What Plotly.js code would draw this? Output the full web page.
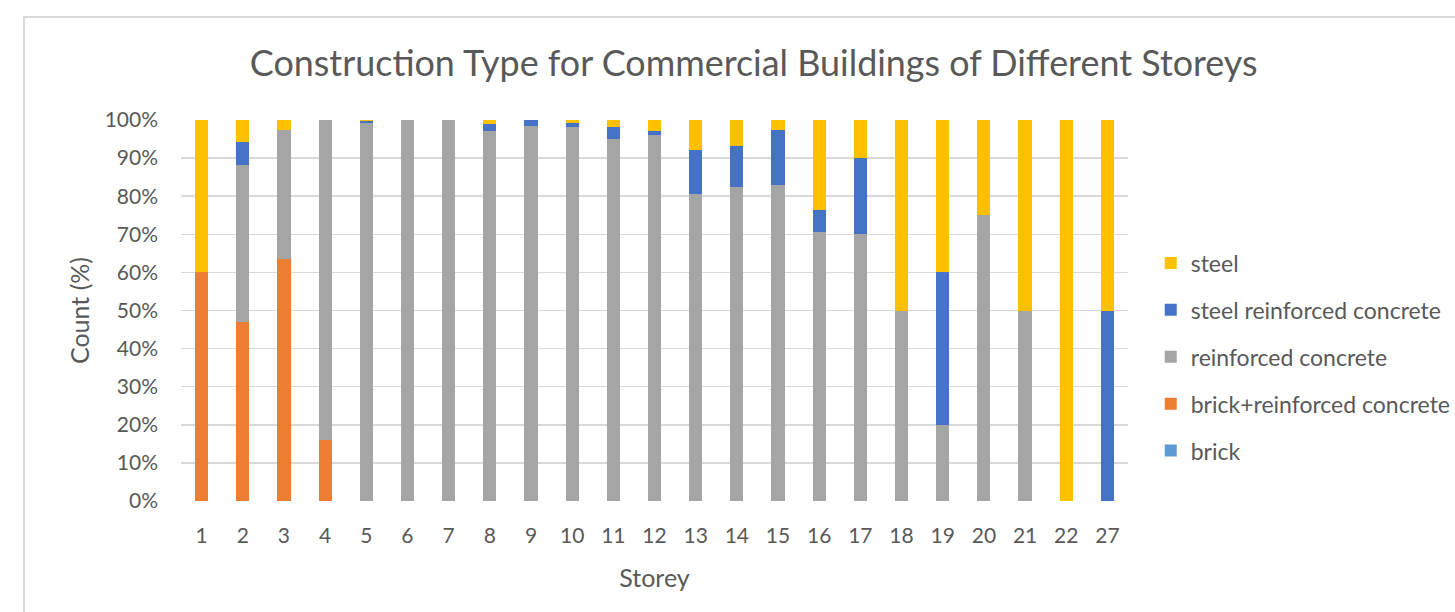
<!DOCTYPE html>
<html><head><meta charset="utf-8">
<script src="https://cdn.plot.ly/plotly-3.0.1.min.js"></script>
<style>
html,body{margin:0;padding:0;background:#fff;}
#frame{position:absolute;left:23px;top:16px;width:1500px;height:700px;border:2px solid #D9D9D9;box-sizing:border-box;}
#chart{position:absolute;left:0;top:0;width:1455px;height:612px;}
</style></head>
<body>
<div id="frame"></div>
<div id="chart"></div>
<script>
const storeys = ['1','2','3','4','5','6','7','8','9','10','11','12','13','14','15','16','17','18','19','20','21','22','27'];
const brick = [0,0,0,0,0,0,0,0,0,0,0,0,0,0,0,0,0,0,0,0,0,0,0];
const brickRC = [60,47.1,63.4,16,0,0,0,0,0,0,0,0,0,0,0,0,0,0,0,0,0,0,0];
const reinforcedConcrete = [0,41.2,34.1,84,99.3,100,100,97.1,98.5,98.2,95,96.1,80.6,82.3,83,70.6,70,50,20,75,50,0,0];
const steelRC = [0,5.9,0,0,0.4,0,0,1.8,1.5,1.1,3.2,1.0,11.6,11.0,14.5,5.9,20,0,40,0,0,0,50];
const steel = [40,5.9,2.5,0,0.3,0,0,1.1,0,0.7,1.8,2.9,7.8,6.7,2.5,23.5,10,50,40,25,50,100,50];
const yTicks = [0,10,20,30,40,50,60,70,80,90,100];

const series = [
  {name:'brick', y:brick, color:'#5B9BD5', rank:5},
  {name:'brick+reinforced concrete', y:brickRC, color:'#ED7D31', rank:4},
  {name:'reinforced concrete', y:reinforcedConcrete, color:'#A5A5A5', rank:3},
  {name:'steel reinforced concrete', y:steelRC, color:'#4472C4', rank:2},
  {name:'steel', y:steel, color:'#FFC000', rank:1}
];
const traces = series.map(s => ({
  type:'bar', x:storeys, y:s.y, name:s.name, legendgroup:s.name, legendrank:s.rank,
  marker:{color:s.color, line:{width:0}}
}));
const font = "Lato, 'Open Sans', sans-serif";
const layout = {
  width:1455, height:612,
  paper_bgcolor:'rgba(0,0,0,0)', plot_bgcolor:'rgba(0,0,0,0)',
  barmode:'stack', bargap:0.68,
  margin:{l:181, r:327, t:120, b:111, pad:0, autoexpand:false},
  font:{family:font, color:'#595959', size:21},
  title:{text:'Construction Type for Commercial Buildings of Different Storeys', x:0.518, xref:'container', xanchor:'center', y:0.897, yanchor:'middle', font:{family:font, size:35.9, color:'#595959'}},
  xaxis:{type:'category', tickfont:{size:21, color:'#595959'}, showgrid:false, zeroline:false, showline:false, ticks:'', ticklabelstandoff:20,
    title:{text:'Storey', font:{size:25, color:'#595959'}, standoff:23}},
  yaxis:{range:[0,100], tickvals:yTicks, ticktext:yTicks.map(v=>v+'%'), tickfont:{size:21, color:'#595959'},
    showgrid:true, gridcolor:'#D9D9D9', gridwidth:1.5, zeroline:false, showline:false, ticks:'', ticklabelstandoff:22,
    title:{text:'Count (%)', font:{size:25, color:'#595959'}, standoff:7}},
  legend:{x:1.024, xanchor:'left', y:0.378, yanchor:'middle', traceorder:'grouped', tracegroupgap:14,
    font:{size:23, color:'#595959'}, itemwidth:30, bgcolor:'rgba(0,0,0,0)'},
  showlegend:true
};
Plotly.newPlot('chart', traces, layout, {displayModeBar:false, staticPlot:true});
</script>
</body></html>
